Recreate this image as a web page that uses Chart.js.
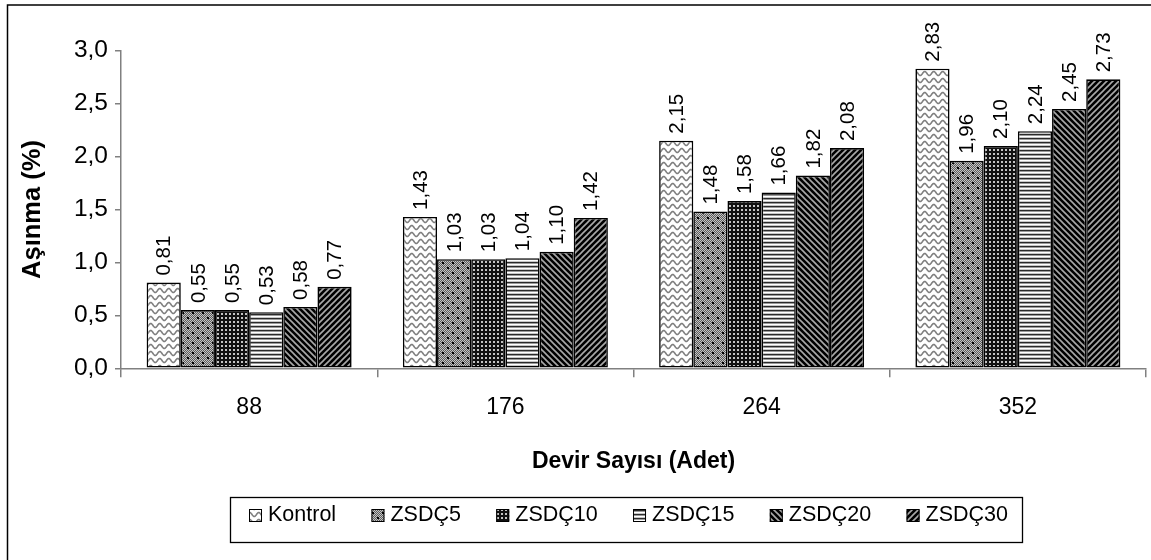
<!DOCTYPE html>
<html><head><meta charset="utf-8">
<script src="https://cdn.jsdelivr.net/npm/chart.js@4.4.1/dist/chart.umd.min.js"></script>
<style>html,body{margin:0;padding:0;background:#fff}#wrap{width:1151px;height:560px}canvas{display:block}</style>
</head><body><div id="wrap"><canvas id="c" width="1151" height="560"></canvas></div>
<script>
const categories = ['88', '176', '264', '352'];
const seriesNames = ['Kontrol', 'ZSDÇ5', 'ZSDÇ10', 'ZSDÇ15', 'ZSDÇ20', 'ZSDÇ30'];
const kontrol = [0.81, 1.43, 2.15, 2.83];
const zsdc5   = [0.55, 1.03, 1.48, 1.96];
const zsdc10  = [0.55, 1.03, 1.58, 2.10];
const zsdc15  = [0.53, 1.04, 1.66, 2.24];
const zsdc20  = [0.58, 1.10, 1.82, 2.45];
const zsdc30  = [0.77, 1.42, 2.08, 2.73];
const yTicks = [0, 0.5, 1.0, 1.5, 2.0, 2.5, 3.0];
const yTitle = 'Aşınma (%)';
const xTitle = 'Devir Sayısı (Adet)';

const FONT = "'Liberation Sans', Arial, sans-serif";
const canvas = document.getElementById('c');
const ctx = canvas.getContext('2d');

function makePattern(w, h, draw) {
  const c = document.createElement('canvas');
  c.width = w; c.height = h;
  const g = c.getContext('2d');
  draw(g, w, h);
  return ctx.createPattern(c, 'repeat');
}
const patterns = [
  makePattern(9, 7, (g, w, h) => {
    g.fillStyle = '#fff'; g.fillRect(0, 0, w, h);
    g.strokeStyle = '#808080'; g.lineWidth = 1.6;
    g.beginPath();
    for (let x = -1; x <= w + 1; x += 0.5) {
      const y = 3.5 + 2.0 * Math.sin(2 * Math.PI * x / w);
      if (x === -1) g.moveTo(x, y); else g.lineTo(x, y);
    }
    g.stroke();
  }),
  makePattern(10, 10, (g, w, h) => {
    for (let i = 0; i < w; i++) for (let j = 0; j < h; j++) {
      g.fillStyle = (i + j) % 2 ? '#5a5a5a' : '#c4c4c4';
      g.fillRect(i, j, 1, 1);
    }
    g.fillStyle = '#000';
    g.fillRect(2, 2, 2, 2); g.fillRect(7, 7, 2, 2);
  }),
  makePattern(4, 4, (g, w, h) => {
    g.fillStyle = '#111'; g.fillRect(0, 0, w, h);
    g.fillStyle = '#c4c4c4'; g.fillRect(1, 1, 2, 2);
  }),
  makePattern(1, 4, (g, w, h) => {
    const rows = ['#ffffff', '#c8c8c8', '#2a2a2a', '#9a9a9a'];
    rows.forEach((c, i) => { g.fillStyle = c; g.fillRect(0, i, 1, 1); });
  }),
  makePattern(6, 6, (g, w, h) => {
    g.fillStyle = '#000'; g.fillRect(0, 0, w, h);
    g.strokeStyle = '#a8a8a8'; g.lineWidth = 1.6;
    g.beginPath();
    g.moveTo(-1, -1); g.lineTo(7, 7);
    g.moveTo(-1, 5); g.lineTo(1, 7);
    g.moveTo(5, -1); g.lineTo(7, 1);
    g.stroke();
  }),
  makePattern(6, 6, (g, w, h) => {
    g.fillStyle = '#000'; g.fillRect(0, 0, w, h);
    g.strokeStyle = '#a8a8a8'; g.lineWidth = 1.6;
    g.beginPath();
    g.moveTo(-1, 7); g.lineTo(7, -1);
    g.moveTo(-1, 1); g.lineTo(1, -1);
    g.moveTo(5, 7); g.lineTo(7, 5);
    g.stroke();
  })
];

const seriesData = [kontrol, zsdc5, zsdc10, zsdc15, zsdc20, zsdc30];
const datasets = seriesNames.map((name, i) => ({
  label: name,
  data: seriesData[i],
  backgroundColor: patterns[i],
  borderColor: '#000',
  borderWidth: 1.6,
  borderSkipped: false,
  categoryPercentage: 0.8,
  barPercentage: 1.0
}));

const fmt = (v, d) => v.toFixed(d).replace('.', ',');

const framePlugin = {
  id: 'frame',
  beforeDraw(chart) {
    const c = chart.ctx;
    c.save(); c.fillStyle = '#fff'; c.fillRect(0, 0, chart.width, chart.height); c.restore();
  },
  afterDraw(chart) {
    const c = chart.ctx;
    c.save();
    c.strokeStyle = '#000'; c.lineWidth = 1.5;
    c.strokeRect(7.5, 5, 1145, 560);
    c.restore();
  }
};

const labelPlugin = {
  id: 'vlabels',
  afterDatasetsDraw(chart) {
    const c = chart.ctx;
    c.save();
    c.font = '20.5px ' + FONT;
    c.fillStyle = '#000';
    c.textAlign = 'left';
    c.textBaseline = 'middle';
    chart.data.datasets.forEach((ds, di) => {
      const meta = chart.getDatasetMeta(di);
      meta.data.forEach((bar, i) => {
        c.save();
        c.translate(bar.x + 1, bar.y - 7);
        c.rotate(-Math.PI / 2);
        c.fillText(fmt(ds.data[i], 2), 0, 0);
        c.restore();
      });
    });
    c.restore();
  }
};

const legendPlugin = {
  id: 'boxlegend',
  afterDraw(chart) {
    const c = chart.ctx;
    c.save();
    const bx = 230, by = 497, bw = 792, bh = 45;
    c.strokeStyle = '#000'; c.lineWidth = 1.3;
    c.strokeRect(bx + 0.5, by + 0.5, bw, bh);
    c.font = '21.5px ' + FONT;
    c.textBaseline = 'middle';
    c.textAlign = 'left';
    const dsets = chart.data.datasets;
    const icon = 13, gap = 6;
    const widths = dsets.map(d => icon + gap + c.measureText(d.label).width);
    const start = 249, end = 1008;
    const total = widths.reduce((a, b) => a + b, 0);
    const spacing = (end - start - total) / (dsets.length - 1);
    let x = start;
    const cy = 515;
    dsets.forEach((d, i) => {
      c.fillStyle = d.backgroundColor;
      c.fillRect(x, cy - 6, icon, icon);
      c.strokeStyle = '#000'; c.lineWidth = 1;
      c.strokeRect(x + 0.5, cy - 5.5, icon - 1, icon - 1);
      c.fillStyle = '#000';
      c.fillText(d.label, x + icon + gap, cy);
      x += widths[i] + spacing;
    });
    c.restore();
  }
};

new Chart(canvas, {
  type: 'bar',
  data: { labels: categories, datasets },
  options: {
    responsive: false,
    animation: false,
    devicePixelRatio: 1,
    layout: { padding: { top: 50.7, bottom: 81.7, left: 0, right: 5 } },
    plugins: { legend: { display: false }, tooltip: { enabled: false } },
    scales: {
      x: {
        type: 'category',
        offset: true,
        grid: { offset: true, drawOnChartArea: false, tickLength: 9, color: '#808080', lineWidth: 1.5 },
        border: { color: '#808080', width: 1.5 },
        ticks: { font: { family: FONT, size: 23 }, color: '#000', padding: 17, maxRotation: 0 },
        title: { display: true, text: xTitle, color: '#000', font: { family: FONT, size: 23, weight: 'bold' }, padding: { top: 0, bottom: 2.5 } },
        afterFit(s) { s.height = 110; }
      },
      y: {
        min: 0, max: 3,
        grid: { drawOnChartArea: false, tickLength: 6, color: '#808080', lineWidth: 1.5 },
        border: { color: '#808080', width: 1.5 },
        afterBuildTicks(s) { s.ticks = yTicks.map(v => ({ value: v })); },
        ticks: { font: { family: FONT, size: 24.5 }, color: '#000', padding: 7, callback: v => fmt(v, 1) },
        title: { display: true, text: yTitle, color: '#000', font: { family: FONT, size: 25.5, weight: 'bold' }, padding: { top: 18, bottom: 0 } },
        afterFit(s) { s.width = 121; }
      }
    }
  },
  plugins: [framePlugin, labelPlugin, legendPlugin]
});
</script>
</body></html>
